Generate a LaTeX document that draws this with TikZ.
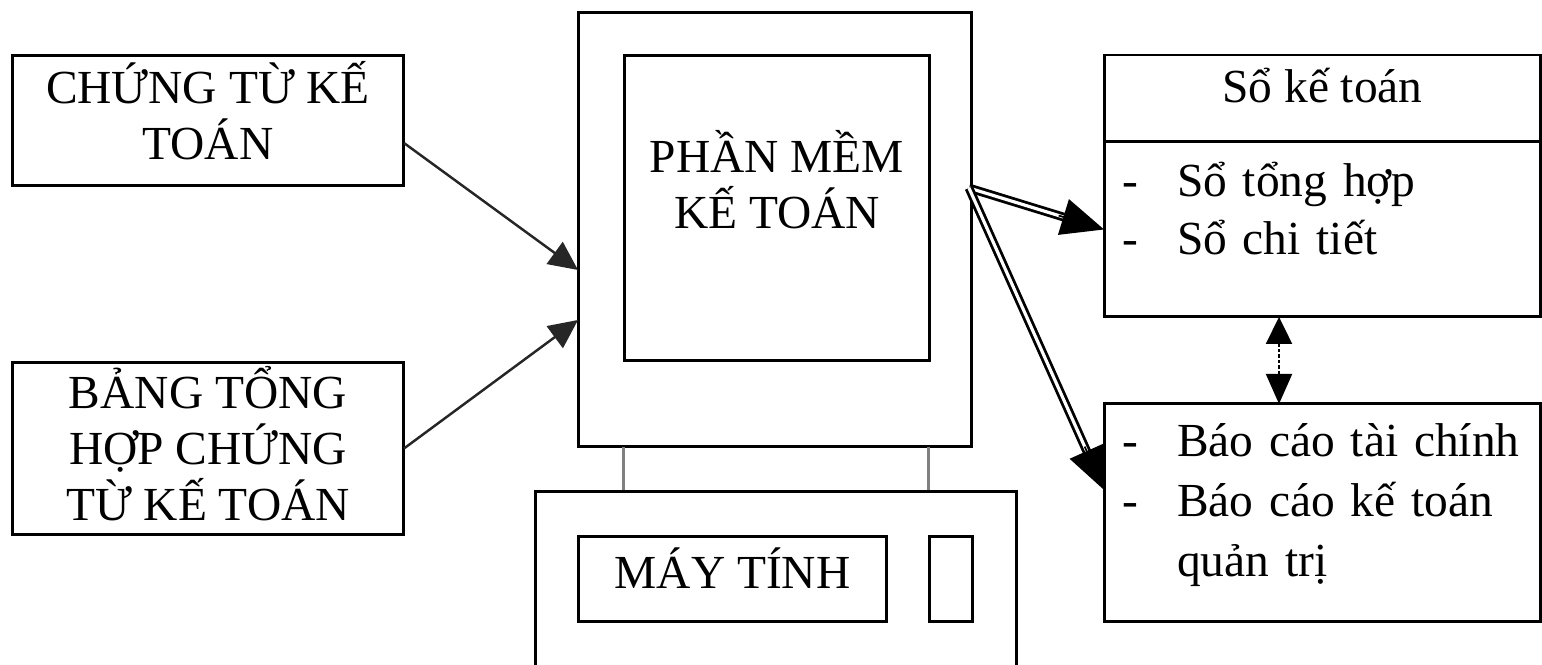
\documentclass[tikz,border=0pt]{standalone}
\usepackage{fontspec}
\setmainfont{Liberation Serif}
\usepackage{tikz}
\usetikzlibrary{calc}
\usetikzlibrary{positioning}
\usetikzlibrary{arrows.meta}

\newcommand{\dashitem}[1]{\makebox[1.1cm][l]{-}#1}

\begin{document}
\begin{tikzpicture}[
    x = .02cm,
    y = -.02cm,
    font = \fontsize{27}{32}\selectfont,
    box/.style = {
      rectangle,
      draw,
      line width=1.7pt,
      inner sep=0pt,
      outer sep=0pt
    },
    txt/.style = {
      align=center,
      inner sep=0pt
    },
    listtxt/.style = {
      align=left,
      inner sep=0pt,
      text width=8.02cm
    },
    leg/.style = {
      draw=black!50,
      line width=1.7pt
    },
    inarrow/.style = {
      -{Triangle[length=.58cm,width=.54cm]},
      line width=1.4pt,
      draw=black!85
    },
    dblshaft/.style = {
      double,
      line width=1.6pt,
      double distance=1.8pt,
      shorten >=.6cm
    },
    dblhead/.style = {
      -{Triangle[length=.85cm,width=.74cm]},
      line width=1pt
    },
    dotarrow/.style = {
      {Triangle[length=.54cm,width=.52cm]}-{Triangle[length=.6cm,width=.52cm]},
      line width=1.2pt,
      dash pattern=on .07cm off .04cm
    }
  ]
    \clip (0,0) rectangle (1542,665);

    % input documents
    \node[box, minimum width=7.84cm, minimum height=2.62cm] (ctkt) at (208,120.5) {};
    \node[txt] (ctlbl) at ([yshift=.2cm]ctkt.center) {CHỨNG TỪ KẾ\\TOÁN};
    \node[box, minimum width=7.84cm, minimum height=3.46cm] (bth) at (208,448.5) {};
    \node[txt] (bthlbl) at ([yshift=.1cm]bth.center) {BẢNG TỔNG\\HỢP CHỨNG\\TỪ KẾ TOÁN};

    % the computer: screen, stand and case
    \node[box, minimum width=7.88cm, minimum height=8.7cm] (screen) at (775,229.5) {};
    \node[box, minimum width=6.12cm, minimum height=6.12cm] (pmkt) at (777,208) {};
    \node[txt] (pmlbl) at ([yshift=.56cm]pmkt.center) {PHẦN MỀM\\KẾ TOÁN};

    \draw[leg] (623,447) -- (623,491);
    \draw[leg] (928,447) -- (928,491);

    \node[box, minimum width=9.64cm, minimum height=4.4cm] (case) at (776,601) {};
    \node[box, minimum width=6.18cm, minimum height=1.72cm] (mt) at (732.5,579) {};
    \node[txt] (mtlbl) at ([yshift=.22cm]mt.center) {MÁY TÍNH};
    \node[box, minimum width=.86cm, minimum height=1.72cm] (btn) [right=.86cm of mt] {};

    % outputs
    \node[box, minimum width=8.74cm, minimum height=1.74cm] (skt) at (1322.5,98.5) {};
    \node[txt] (sktlbl) at ([yshift=.26cm]skt.center) {Sổ kế toán};
    \node[box, minimum width=8.74cm, minimum height=3.5cm] (sklist) [below=0 of skt] {};
    \node[listtxt, font=\fontsize{27}{33}\selectfont] (sklbl) at ([yshift=.41cm]sklist.center)
      {\dashitem{Sổ tổng hợp}\\\dashitem{Sổ chi tiết}};
    \node[box, minimum width=8.74cm, minimum height=4.36cm] (bctc) [below=1.74cm of sklist] {};
    \node[listtxt, font=\fontsize{27}{34}\selectfont] (bclbl) at ([yshift=.16cm]bctc.center)
      {\dashitem{Báo cáo tài chính}\\\dashitem{Báo cáo kế toán}\\\hspace*{1.1cm}quản trị};

    \draw[inarrow] ([yshift=-.45cm]ctkt.east) -- ([yshift=-.81cm]screen.west);
    \draw[inarrow] (bth.east) -- ([yshift=-1.81cm]screen.west);

    \coordinate (pmout) at ([xshift=-.06cm, yshift=.83cm]screen.east);
    \coordinate (bcin) at ([yshift=.46cm]bctc.west);

    \draw[dblshaft] (pmout) -- (sklist.west);
    \draw[dblhead] ($(sklist.west)!.95cm!(pmout)$) -- (sklist.west);
    \draw[dblshaft] (pmout) -- (bcin);
    \draw[dblhead] ($(bcin)!.95cm!(pmout)$) -- (bcin);

    \draw[dotarrow] ([xshift=-.87cm]sklist.south) -- ([xshift=-.87cm]bctc.north);

  \end{tikzpicture}
\end{document}
